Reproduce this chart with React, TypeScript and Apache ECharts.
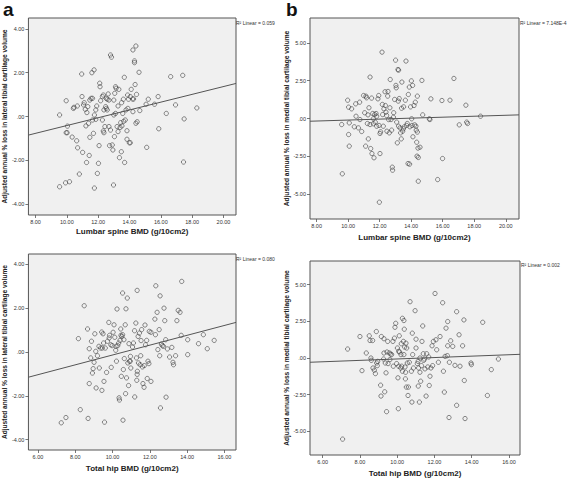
import React, { useEffect, useRef } from "react";
import * as echarts from "echarts";

// Panel a: Lumbar spine BMD vs lateral tibial cartilage loss
const pointsA: [number, number][] = [
  [9.54, 0.07], [9.96, 0.72], [10.04, -0.44], [9.96, -0.74], [10.02, -0.74], [9.54, -3.21], [9.92, -3.03], [10.17, -2.98],
  [10.34, -0.94], [10.42, 0.37], [10.46, 0.42], [10.63, -1.11], [10.69, -1.43], [10.67, 0.48], [10.8, -2.63], [10.95, 1.94],
  [10.97, 0.91], [11.01, -1.64], [11.07, 0.53], [11.11, 0.63], [11.18, 0.33], [11.22, -0.43], [11.26, -2.1], [11.28, 0.18],
  [11.34, 0.45], [11.43, -1.78], [11.39, -0.31], [11.47, -0.95], [11.47, 0.75], [11.55, 0.83], [11.6, 2.0], [11.64, 0.83],
  [11.64, -0.16], [11.7, -0.77], [11.74, 2.13], [11.76, -3.27], [11.76, 0.07], [11.85, 0.3], [11.85, -0.13], [11.91, 0.48],
  [11.95, -2.6], [12.02, -2.14], [12.06, -1.33], [12.1, 1.52], [12.12, 1.36], [12.16, 0.72], [12.27, 0.91], [12.27, -0.16],
  [12.33, -0.66], [12.37, -0.74], [12.33, 0.98], [12.37, 0.3], [12.43, -0.46], [12.48, 0.45], [12.52, 0.83], [12.52, 0.37],
  [12.58, 0.79], [12.58, 0.3], [12.64, 1.03], [12.69, 0.75], [12.69, -0.46], [12.73, -1.33], [12.79, 2.81], [12.85, 2.71],
  [12.79, -0.62], [12.9, -1.3], [12.94, -1.53], [12.98, -3.13], [13.0, 0.75], [13.0, 0.07], [13.04, -0.92], [13.06, 1.06],
  [13.11, 1.36], [13.11, 0.14], [13.15, 1.29], [13.21, -0.46], [13.27, 0.48], [13.27, -0.69], [13.32, 1.24], [13.36, -1.88],
  [13.4, -0.5], [13.44, -0.28], [13.48, -1.61], [13.5, 0.63], [13.52, -0.43], [13.57, 0.14], [13.61, 0.79], [13.63, -0.22],
  [13.67, 1.79], [13.69, -2.1], [13.73, -0.16], [13.78, 0.3], [13.84, -0.65], [13.84, -1.04], [13.88, 0.98], [13.9, 0.37],
  [13.94, 0.79], [13.99, -1.2], [14.05, -1.2], [14.05, 0.91], [14.11, 1.24], [14.2, 0.8], [14.22, 3.04], [14.22, 0.22],
  [14.26, 0.8], [14.32, 2.54], [14.32, 2.46], [14.36, 1.46], [14.41, -0.31], [14.41, 3.22], [14.45, 1.01], [14.49, -0.24],
  [14.61, 2.02], [14.66, 0.27], [15.06, 0.56], [15.1, -1.41], [15.2, 0.79], [15.6, 0.56], [15.83, 0.91], [15.87, -0.56],
  [16.35, 0.14], [16.63, 1.82], [16.94, 0.53], [17.4, 1.88], [17.45, -2.08], [17.49, -0.11], [18.3, 0.39],
];
const fitA: [number, number][] = [[7.55, -0.85], [20.8, 1.51]];

// Panel b: Lumbar spine BMD vs medial tibial cartilage loss
const pointsB: [number, number][] = [
  [9.59, -0.4], [9.63, -3.66], [9.97, 1.21], [10.03, 0.75], [10.07, -0.29], [10.03, -1.06], [10.07, -1.83], [10.22, 0.64],
  [10.39, -0.55], [10.48, 0.97], [10.5, 0.15], [10.65, -0.62], [10.73, 1.08], [10.75, -0.07], [10.86, -0.86], [10.98, 1.52],
  [11.05, 0.38], [11.11, -1.83], [11.13, 1.48], [11.17, 1.37], [11.22, -0.33], [11.26, 0.24], [11.28, -1.35], [11.32, 0.71],
  [11.39, 2.74], [11.39, -0.4], [11.43, -1.99], [11.49, 1.35], [11.51, -2.32], [11.56, 0.33], [11.6, -0.02], [11.6, -0.35],
  [11.64, -2.6], [11.68, 0.26], [11.72, -0.24], [11.77, 0.33], [11.81, -0.51], [11.81, 0.15], [11.89, 1.3], [11.94, 1.52],
  [11.96, -0.46], [12.02, -2.32], [11.98, -5.54], [12.02, -0.99], [12.06, -0.88], [12.15, 4.39], [12.17, 0.93], [12.19, 0.26],
  [12.23, -0.51], [12.27, 0.64], [12.34, 1.77], [12.36, 0.86], [12.4, 0.42], [12.44, 0.2], [12.46, -0.84], [12.51, 1.48],
  [12.53, 1.79], [12.57, -0.07], [12.61, -0.95], [12.65, 0.71], [12.67, 2.58], [12.72, -0.07], [12.76, -0.77], [12.8, -3.22],
  [12.82, -3.42], [12.87, 0.09], [12.89, 0.38], [12.95, 1.26], [13.01, 3.86], [13.03, 2.19], [13.05, 2.03], [13.08, -0.24],
  [13.12, -1.61], [13.16, 3.24], [13.2, 3.2], [13.18, 1.15], [13.2, -0.51], [13.24, 1.32], [13.29, -0.62], [13.33, -0.95],
  [13.37, -1.35], [13.39, 0.68], [13.41, 2.41], [13.46, -0.84], [13.5, -0.68], [13.52, 0.77], [13.56, -0.55], [13.63, 1.21],
  [13.67, 3.8], [13.71, -0.46], [13.75, -0.33], [13.8, -2.98], [13.82, 1.59], [13.88, 2.08], [13.9, -3.02], [13.92, -0.55],
  [13.96, 0.77], [14.01, 2.49], [14.03, -0.02], [14.05, -0.46], [14.09, 2.19], [14.11, -1.21], [14.18, 0.86], [14.22, -0.42],
  [14.26, 1.08], [14.3, -0.51], [14.32, -0.77], [14.35, -1.57], [14.37, -2.49], [14.39, 1.48], [14.39, -0.9], [14.43, -1.96],
  [14.45, -4.15], [14.45, -2.58], [14.56, -1.9], [14.68, 2.52], [14.73, 0.24], [15.15, -0.02], [15.19, -0.07], [15.25, 1.3],
  [15.68, -4.04], [15.95, 1.19], [15.99, -2.65], [16.46, 1.21], [16.71, 2.65], [17.05, -0.42], [17.47, 0.88], [17.52, -0.24],
  [17.58, -0.33], [18.4, 0.15],
];
const fitB: [number, number][] = [[7.58, -0.18], [20.84, 0.24]];

// Panel c: Total hip BMD vs lateral tibial cartilage loss
const pointsC: [number, number][] = [
  [7.25, -3.23], [7.5, -2.99], [8.17, 0.61], [8.27, -2.63], [8.48, 2.11], [8.66, 1.05], [8.69, -3.03], [8.75, 0.15],
  [8.75, -1.44], [8.83, -0.27], [8.87, 0.49], [8.92, -0.96], [8.96, -0.76], [9.01, -0.47], [9.05, 0.83], [9.1, 0.03],
  [9.12, -1.64], [9.19, -0.17], [9.27, 0.26], [9.29, -0.73], [9.36, 0.18], [9.42, 0.91], [9.43, -1.75], [9.45, 0.18],
  [9.49, 0.83], [9.52, 0.41], [9.54, -1.34], [9.57, -3.2], [9.61, 0.18], [9.68, -0.93], [9.73, 0.49], [9.8, 1.35],
  [9.82, 0.64], [9.84, 0.76], [9.91, 0.33], [9.93, -0.7], [9.98, 0.29], [10.03, 0.9], [10.08, 1.24], [10.12, 0.67],
  [10.17, 0.08], [10.19, 0.26], [10.21, -0.42], [10.24, 1.96], [10.28, 0.29], [10.33, 0.41], [10.35, -2.09], [10.37, -2.19],
  [10.4, 0.53], [10.44, 1.05], [10.45, 0.76], [10.47, -1.11], [10.5, 0.71], [10.54, 0.79], [10.54, 2.69], [10.56, -3.11],
  [10.58, -0.8], [10.61, 0.56], [10.63, -0.3], [10.68, 1.24], [10.7, -1.9], [10.72, 1.97], [10.75, -1.18], [10.79, 2.46],
  [10.82, -0.5], [10.86, -1.53], [10.88, 0.38], [10.91, -0.42], [10.95, -0.42], [10.96, -0.2], [10.98, -0.73], [11.07, 0.23],
  [11.12, 0.41], [11.18, 0.97], [11.19, -2.05], [11.25, 1.32], [11.28, -0.27], [11.3, -1.29], [11.32, 2.81], [11.32, -1.02],
  [11.33, -0.88], [11.37, 0.71], [11.39, -0.5], [11.44, 0.86], [11.48, -0.58], [11.51, -0.17], [11.53, 0.52], [11.56, 1.02],
  [11.6, -0.68], [11.63, -1.44], [11.69, -1.61], [11.7, -0.62], [11.74, 1.23], [11.77, 0.33], [11.83, 0.53], [11.86, -1.21],
  [11.9, -0.42], [11.95, -0.53], [11.97, 0.94], [12.06, 0.9], [12.06, -1.34], [12.27, 1.5], [12.3, 0.79], [12.32, 3.02],
  [12.39, 1.81], [12.43, 0.11], [12.5, 1.02], [12.53, -0.17], [12.55, 2.56], [12.57, -2.55], [12.62, 0.36], [12.67, 0.29],
  [12.73, 0.26], [12.76, 2.0], [12.8, 1.43], [12.85, 0.56], [12.87, -2.06], [12.94, 0.14], [13.06, -0.23], [13.18, 0.21],
  [13.24, -0.47], [13.27, -0.58], [13.38, -0.17], [13.45, 1.43], [13.52, 1.9], [13.62, 1.81], [13.68, 0.76], [13.71, 3.22],
  [14.03, 0.56], [14.03, -0.12], [14.61, 0.38], [14.87, 0.79], [15.08, 0.15], [15.45, 0.53],
];
const fitC: [number, number][] = [[5.49, -1.15], [16.62, 1.35]];

// Panel d: Total hip BMD vs medial tibial cartilage loss
const pointsD: [number, number][] = [
  [7.07, -5.52], [7.34, 0.61], [8.0, 1.46], [8.11, -0.86], [8.34, 0.34], [8.5, 1.51], [8.54, 1.19], [8.59, 0.0],
  [8.61, -0.16], [8.68, 1.19], [8.7, -0.68], [8.77, -0.83], [8.83, -1.06], [8.88, 1.8], [8.9, -0.34], [8.93, -0.52],
  [8.95, -0.23], [9.11, -1.85], [9.13, -2.59], [9.15, 1.46], [9.27, -0.07], [9.29, 0.34], [9.29, 1.31], [9.33, -2.3],
  [9.36, -0.34], [9.4, -1.01], [9.43, -3.65], [9.45, 0.41], [9.49, 1.13], [9.51, -0.38], [9.58, 0.34], [9.61, -0.11],
  [9.65, 0.27], [9.7, 0.23], [9.77, 1.13], [9.79, -0.56], [9.85, 1.35], [9.88, 2.09], [9.92, 2.36], [9.97, -0.38],
  [10.01, 0.68], [10.04, -1.35], [10.06, -3.45], [10.08, 0.45], [10.08, -0.56], [10.11, 1.51], [10.13, 0.41], [10.19, -0.68],
  [10.2, 0.23], [10.22, 0.97], [10.24, -0.56], [10.28, 2.7], [10.28, -0.9], [10.33, 1.13], [10.36, 2.55], [10.36, 0.23],
  [10.38, 1.96], [10.4, 0.74], [10.42, -0.61], [10.44, -1.42], [10.45, -0.97], [10.47, 1.01], [10.49, -1.98], [10.51, 0.68],
  [10.54, -0.34], [10.58, -2.55], [10.6, -1.98], [10.65, -0.29], [10.69, 3.83], [10.76, -0.9], [10.79, -3.0], [10.81, 1.69],
  [10.83, 0.23], [10.87, -0.68], [10.96, 3.22], [11.01, 0.68], [11.01, 1.28], [11.08, -0.38], [11.12, -0.23], [11.13, -1.91],
  [11.15, -0.68], [11.19, -3.0], [11.22, 0.0], [11.22, -0.97], [11.26, -1.58], [11.3, -0.52], [11.33, 1.13], [11.37, 2.18],
  [11.4, 0.29], [11.42, -0.16], [11.46, -0.07], [11.49, -0.74], [11.55, -2.59], [11.58, 0.29], [11.64, -0.61], [11.69, 0.07],
  [11.72, -1.87], [11.76, -1.24], [11.81, -0.68], [11.87, 0.83], [11.9, -0.52], [11.94, 1.13], [12.03, 4.39], [12.08, 1.24],
  [12.12, 0.56], [12.21, -0.29], [12.3, 1.46], [12.44, 3.76], [12.48, -0.9], [12.53, -2.32], [12.57, 0.11], [12.62, 2.03],
  [12.69, 0.16], [12.71, 2.48], [12.71, 0.83], [12.78, -4.05], [12.8, -0.29], [12.87, 1.17], [12.98, 0.79], [13.1, -0.5],
  [13.19, 3.15], [13.19, -3.22], [13.32, 1.58], [13.37, -0.56], [13.51, 0.83], [13.58, 2.59], [13.6, -1.53], [13.64, -4.12],
  [13.96, -0.34], [13.98, -0.45], [14.59, 2.43], [14.84, -2.55], [15.05, -0.79], [15.43, -0.07],
];
const fitD: [number, number][] = [[5.32, -0.29], [16.59, 0.25]];

const lumbarTicks = [8, 10, 12, 14, 16, 18, 20];
const hipTicks = [6, 8, 10, 12, 14, 16];
const lateralTicks = [-4, -2, 0, 2, 4];
const medialTicks = [-5, -2.5, 0, 2.5, 5];

const panelLetters = ["a", "b"];
const r2Labels = ["R\u00b2 Linear = 0.059", "R\u00b2 Linear = 7.148E-4", "R\u00b2 Linear = 0.080", "R\u00b2 Linear = 0.002"];
const xTitles = ["Lumbar spine BMD (g/10cm2)", "Lumbar spine BMD (g/10cm2)", "Total hip BMD (g/10cm2)", "Total hip BMD (g/10cm2)"];
const yTitles = [
  "Adjusted annual % loss in lateral tibial cartilage volume",
  "Adjusted annual % loss in medial tibial cartilage volume",
  "Adjusted annual % loss in lateral tibial cartilage volume",
  "Adjusted annual % loss in medial tibial cartilage volume",
];

const FONT = "Liberation Sans, Arial, sans-serif";

const fmt = (v: number) => {
  const s = v.toFixed(2);
  if (s === "0.00" || s === "-0.00") return ".00";
  return s;
};

export default function App() {
  const ref = useRef<HTMLDivElement>(null);
  useEffect(() => {
    if (!ref.current) return;
    const chart = echarts.init(ref.current, null, { renderer: "svg" });

    const grids = [
      { left: 25, top: 18, width: 211, height: 197 },
      { left: 310, top: 18, width: 209, height: 201 },
      { left: 25, top: 254, width: 211, height: 196 },
      { left: 310, top: 261, width: 210, height: 195 },
    ];
    const xRanges = [[7.55, 20.8], [7.58, 20.84], [5.49, 16.62], [5.32, 16.59]];
    const yRanges = [[-4.5, 4.5], [-6.65, 6.65], [-4.47, 4.47], [-6.6, 6.6]];
    const xTickSets = [lumbarTicks, lumbarTicks, hipTicks, hipTicks];
    const yTickSets = [lateralTicks, medialTicks, lateralTicks, medialTicks];
    const xNameGaps = [12, 14, 14, 14];
    const pointSets = [pointsA, pointsB, pointsC, pointsD];
    const fits = [fitA, fitB, fitC, fitD];

    const tickStyle = { show: true, length: 3, lineStyle: { color: "#555", width: 0.8 } };

    const option: any = {
      animation: false,
      backgroundColor: "#fff",
      grid: grids.map((g) => ({
        ...g,
        show: true,
        backgroundColor: "#f0f0f0",
        borderColor: "#555",
        borderWidth: 1,
      })),
      xAxis: grids.map((_, i) => ({
        type: "value",
        gridIndex: i,
        position: "bottom",
        min: xRanges[i][0],
        max: xRanges[i][1],
        axisLine: { show: false, onZero: false },
        splitLine: { show: false },
        axisTick: { ...tickStyle, customValues: xTickSets[i] },
        axisLabel: {
          customValues: xTickSets[i],
          formatter: fmt,
          fontSize: 5.5,
          color: "#333",
          fontFamily: FONT,
          margin: 4,
        },
        name: xTitles[i],
        nameLocation: "middle",
        nameGap: xNameGaps[i],
        nameTextStyle: { fontSize: 8, fontWeight: "bold", color: "#222", fontFamily: FONT },
      })),
      yAxis: grids.map((_, i) => ({
        type: "value",
        gridIndex: i,
        position: "left",
        min: yRanges[i][0],
        max: yRanges[i][1],
        axisLine: { show: false, onZero: false },
        splitLine: { show: false },
        axisTick: { ...tickStyle, customValues: yTickSets[i] },
        axisLabel: {
          customValues: yTickSets[i],
          formatter: fmt,
          fontSize: 5.5,
          color: "#333",
          fontFamily: FONT,
          margin: 4,
        },
        name: yTitles[i],
        nameLocation: "middle",
        nameRotate: 90,
        nameGap: 19,
        nameTextStyle: { fontSize: 6.6, fontWeight: "bold", color: "#222", fontFamily: FONT },
      })),
      series: [
        ...pointSets.map((pts, i) => ({
          type: "scatter",
          xAxisIndex: i,
          yAxisIndex: i,
          data: pts,
          symbol: "circle",
          symbolSize: 4.3,
          itemStyle: { color: "rgba(0,0,0,0)", borderColor: "#444", borderWidth: 0.8 },
          silent: true,
        })),
        ...fits.map((f, i) => ({
          type: "line",
          xAxisIndex: i,
          yAxisIndex: i,
          data: f,
          symbol: "none",
          lineStyle: { color: "#555", width: 1 },
          silent: true,
        })),
      ],
      graphic: [
        { type: "text", left: 3, top: 0, style: { text: panelLetters[0], fontSize: 19, fontWeight: "bold", fill: "#111", fontFamily: FONT } },
        { type: "text", left: 286, top: 0, style: { text: panelLetters[1], fontSize: 19, fontWeight: "bold", fill: "#111", fontFamily: FONT } },
        { type: "text", left: 236, top: 20, style: { text: r2Labels[0], fontSize: 5, fill: "#333", fontFamily: FONT } },
        { type: "text", left: 520, top: 20, style: { text: r2Labels[1], fontSize: 5, fill: "#333", fontFamily: FONT } },
        { type: "text", left: 236, top: 256, style: { text: r2Labels[2], fontSize: 5, fill: "#333", fontFamily: FONT } },
        { type: "text", left: 521, top: 262, style: { text: r2Labels[3], fontSize: 5, fill: "#333", fontFamily: FONT } },
      ],
    };
    chart.setOption(option);
    return () => chart.dispose();
  }, []);
  return (
    <div
      ref={ref}
      style={{ position: "fixed", left: 0, top: 0, width: 567, height: 478 }}
    />
  );
}
